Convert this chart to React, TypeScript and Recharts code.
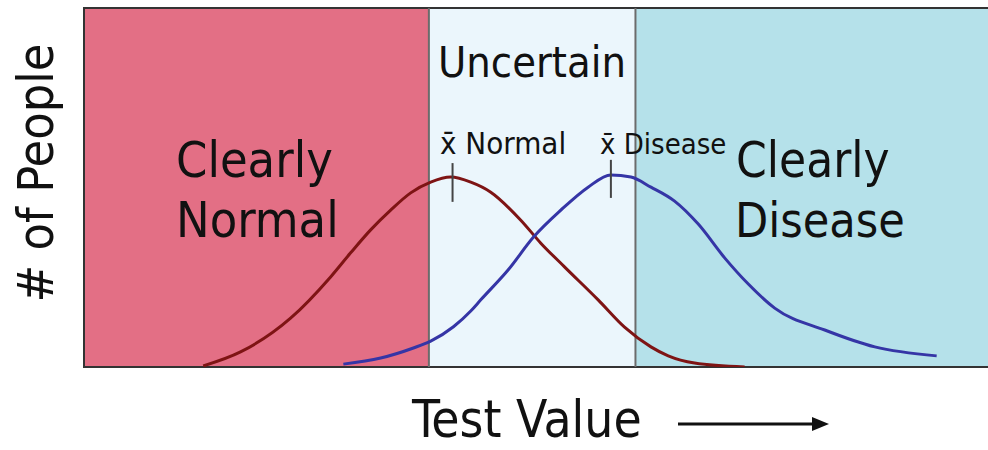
import { ComposedChart, Line, XAxis, YAxis, ReferenceArea, ReferenceLine } from 'recharts';

// test value (0-100) vs number of people (0-100)
const normalCurve = [
  { x: 13.1, y: 0.3 }, { x: 17.2, y: 4.2 }, { x: 22.7, y: 13.6 }, { x: 27.1, y: 25.1 },
  { x: 29.3, y: 31.8 }, { x: 31.5, y: 38.2 }, { x: 33.7, y: 43.7 }, { x: 35.9, y: 48.5 },
  { x: 38.1, y: 51.5 }, { x: 40.3, y: 52.9 }, { x: 42.5, y: 51.5 }, { x: 44.7, y: 48.7 },
  { x: 48.0, y: 40.9 }, { x: 50.2, y: 34.5 }, { x: 52.8, y: 27.9 }, { x: 56.5, y: 18.7 },
  { x: 59.4, y: 11.1 }, { x: 62.3, y: 5.6 }, { x: 64.2, y: 3.1 }, { x: 67.1, y: 1.1 },
  { x: 72.6, y: 0 },
];

const diseaseCurve = [
  { x: 28.5, y: 0.8 }, { x: 32.6, y: 2.5 }, { x: 36.2, y: 5.3 }, { x: 38.1, y: 7.2 },
  { x: 40.6, y: 11.2 }, { x: 42.5, y: 15.6 }, { x: 43.6, y: 18.7 }, { x: 46.6, y: 27.0 },
  { x: 49.4, y: 36.2 }, { x: 52.4, y: 43.7 }, { x: 55.4, y: 50.1 }, { x: 57.9, y: 53.5 },
  { x: 60.1, y: 52.9 }, { x: 62.3, y: 50.1 }, { x: 64.9, y: 46.2 }, { x: 67.5, y: 39.8 },
  { x: 70.4, y: 30.4 }, { x: 73.0, y: 23.1 }, { x: 75.9, y: 16.4 }, { x: 81.4, y: 10.3 },
  { x: 86.9, y: 5.6 }, { x: 93.7, y: 3.1 },
];

const cutoffs = [37.9, 60.6];
const means = [
  { x: 40.5, y1: 46.0, y2: 56.8 },
  { x: 57.9, y1: 47.1, y2: 57.7 },
];

const FONT = "'DejaVu Sans Condensed', 'DejaVu Sans', sans-serif";

export default function App() {
  return (
    <div style={{ position: 'absolute', left: 0, top: 0, width: 988, height: 450, overflow: 'hidden', background: '#fff' }}>
      <ComposedChart width={994} height={450} margin={{ top: 8, right: 0, bottom: 83, left: 84 }}>
        <XAxis dataKey="x" type="number" domain={[0, 100]} hide allowDataOverflow />
        <YAxis type="number" domain={[0, 100]} hide allowDataOverflow />
        <ReferenceArea x1={0} x2={cutoffs[0]} y1={0} y2={100} fill="#E36F85" fillOpacity={1} stroke="none" />
        <ReferenceArea x1={cutoffs[0]} x2={cutoffs[1]} y1={0} y2={100} fill="#EBF6FC" fillOpacity={1} stroke="none" />
        <ReferenceArea x1={cutoffs[1]} x2={100} y1={0} y2={100} fill="#B5E1EA" fillOpacity={1} stroke="none" />
        {cutoffs.map((c) => (
          <ReferenceLine key={c} x={c} stroke="#6B6B6B" strokeWidth={2} />
        ))}
        <ReferenceArea x1={0} x2={100} y1={0} y2={100} fill="none" stroke="#333" strokeWidth={2} />
        <Line data={normalCurve} dataKey="y" type="monotone" stroke="#7E1414" strokeWidth={3} dot={false} isAnimationActive={false} />
        <Line data={diseaseCurve} dataKey="y" type="monotone" stroke="#3535A6" strokeWidth={3} dot={false} isAnimationActive={false} />
        {means.map((m) => (
          <ReferenceLine key={m.x} segment={[{ x: m.x, y: m.y1 }, { x: m.x, y: m.y2 }]} stroke="#444" strokeWidth={2} />
        ))}
      </ComposedChart>
      <svg width={988} height={450} style={{ position: 'absolute', left: 0, top: 0, pointerEvents: 'none' }}>
        <g fontFamily={FONT} fill="#111" style={{ fontStretch: 'condensed' }}>
          <text x={532} y={77} fontSize={43} textAnchor="middle">Uncertain</text>
          <text x={176} y={177} fontSize={50}>Clearly</text>
          <text x={176} y={237} fontSize={50}>Normal</text>
          <text x={736} y={177} fontSize={49}>Clearly</text>
          <text x={735} y={237} fontSize={48}>Disease</text>
          <text x={440} y={154} fontSize={31}>{'x\u0304'} Normal</text>
          <text x={600} y={154} fontSize={29}>{'x\u0304'} Disease</text>
          <text x={53} y={173} fontSize={50} textAnchor="middle" transform="rotate(-90 53 173)"># of People</text>
          <text x={412} y={437} fontSize={51}>Test Value</text>
        </g>
        <line x1={678} y1={424} x2={822} y2={424} stroke="#111" strokeWidth={3} />
        <path d="M 812 417 L 829 424 L 812 431 Z" fill="#111" />
      </svg>
    </div>
  );
}
